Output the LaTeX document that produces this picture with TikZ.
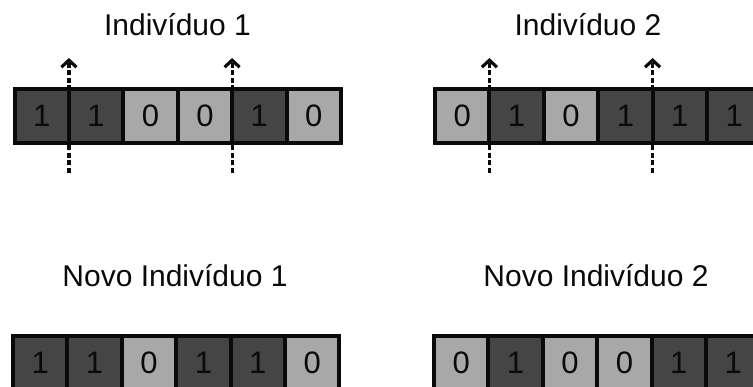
\documentclass[tikz,border=0pt]{standalone}
\usepackage{fontspec}
\setmainfont{Liberation Sans}
\usetikzlibrary{arrows.meta,calc}
\definecolor{bitone}{HTML}{454545}
\definecolor{bitzero}{HTML}{A8A8A8}
\definecolor{edge}{HTML}{0A0A0A}

\begin{document}
\begin{tikzpicture}[x=1pt,y=-1pt,
  cell/.style={draw=edge,line width=4pt,minimum width=54.4pt,minimum height=54pt,
    inner sep=0pt,outer sep=0pt,anchor=north west,
    font=\fontsize{31}{31}\selectfont,text=edge},
  bit1/.style={cell,fill=bitone},
  bit0/.style={cell,fill=bitzero},
  title/.style={font=\fontsize{30}{30}\selectfont,anchor=base,text=edge},
  cut/.style={draw=edge,line width=3.2pt,dash pattern=on 5pt off 2.5pt,
    -{Straight Barb[length=7pt,width=15pt,line width=3.2pt]}}
]
\useasboundingbox (0,0) rectangle (753,387);
\clip (0,0) rectangle (753,387);

% parent chromosomes
\foreach \b [count=\i] in {1,1,0,0,1,0}
  \node[bit\b] (pA\i) at ({14.5+(\i-1)*54.4},89) {\b};
\foreach \b [count=\i] in {0,1,0,1,1,1}
  \node[bit\b] (pB\i) at ({435+(\i-1)*54.4},89) {\b};

% offspring chromosomes
\foreach \b [count=\i] in {1,1,0,1,1,0}
  \node[bit\b] (cA\i) at ({13+(\i-1)*54.4},336) {\b};
\foreach \b [count=\i] in {0,1,0,0,1,1}
  \node[bit\b] (cB\i) at ({434+(\i-1)*54.4},336) {\b};

% titles
\node[title] (tA) at (177.5,36) {Indivíduo 1};
\node[title] (tB) at (588,36) {Indivíduo 2};
\node[title] (tC) at (175,287) {Novo Indivíduo 1};
\node[title] (tD) at (596,287) {Novo Indivíduo 2};

% crossover points
\foreach \p/\k in {pA/1,pA/4,pB/1,pB/4}{
  \coordinate (\p\k lo) at ($(\p\k.south east)+(0,30)$);
  \coordinate (\p\k hi) at ($(\p\k.north east)+(0,-31)$);
  \draw[cut] (\p\k lo) -- (\p\k hi);
}
\end{tikzpicture}
\end{document}
